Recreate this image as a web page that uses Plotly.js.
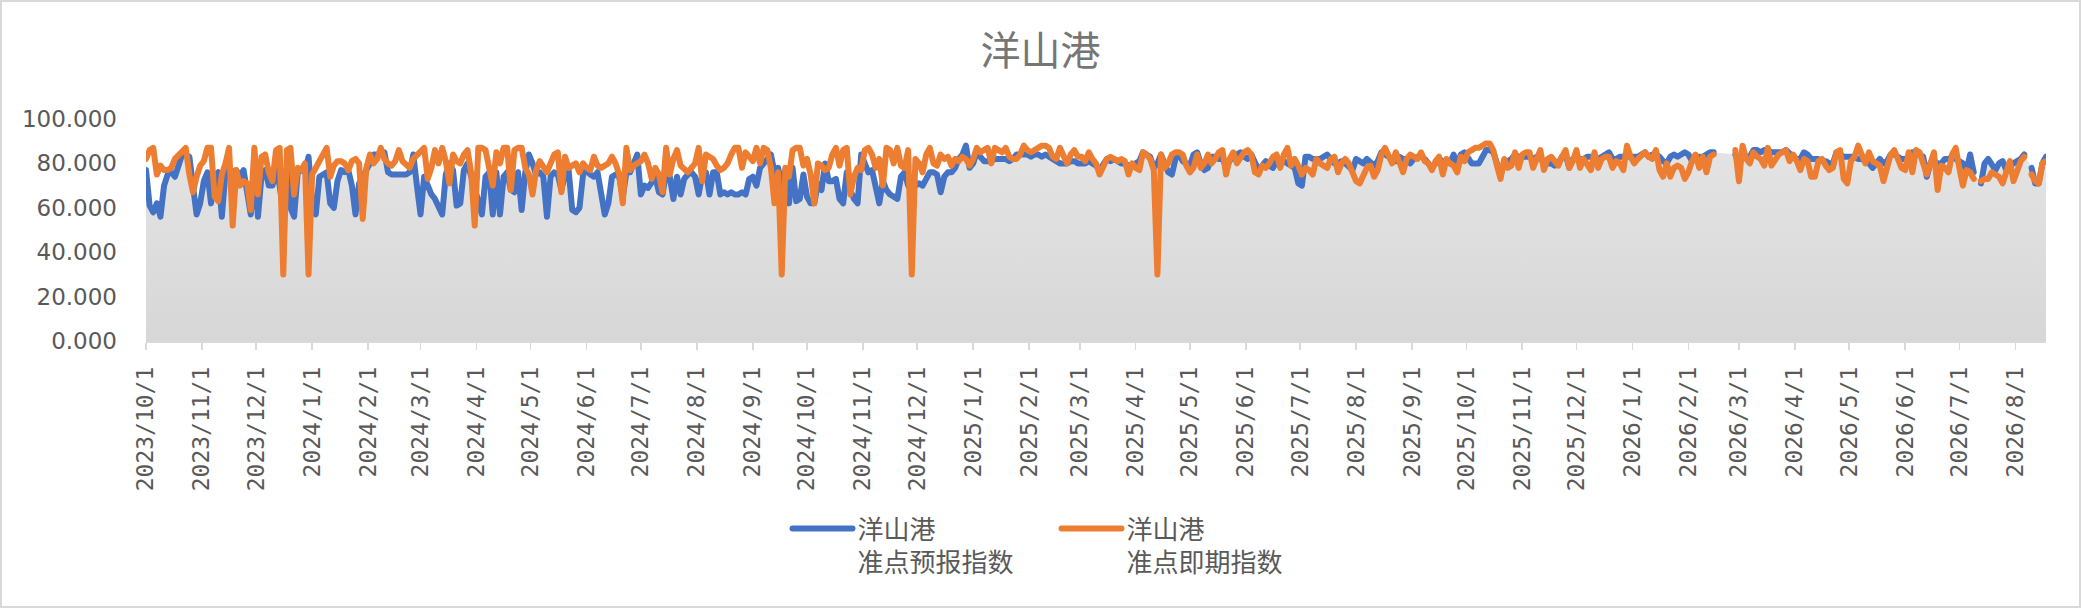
<!DOCTYPE html>
<html>
<head>
<meta charset="utf-8">
<script src="https://cdn.plot.ly/plotly-3.0.1.min.js"></script>
<style>
  body { margin: 0; background: #fff; }
  #wrap { position: relative; width: 2081px; height: 608px; }
  #chart { width: 2081px; height: 608px; }
  #frame {
    position: absolute; left: 0; top: 0; width: 2081px; height: 608px;
    box-sizing: border-box; border: 2px solid #d9d9d9; pointer-events: none;
  }
  .js-line { stroke-linejoin: round; stroke-linecap: round; }
</style>
</head>
<body>
<div id="wrap">
  <div id="chart"></div>
  <div id="frame"></div>
</div>
<script>
// one value every second day, starting 2023/10/1
const startDate = [2023, 9, 1];
const stepDays = 2;

const seriesNames = ['洋山港<br>准点预报指数', '洋山港<br>准点即期指数'];

// 洋山港 准点预报指数
const forecastValues = [
  77,61,58,62,56,70,75,76,74,80,
  84,84,83,70,57,62,72,76,62,74,
  76,56,76,77,76,77,74,77,68,57,
  76,56,75,77,70,70,77,70,58,77,
  60,56,76,77,76,83,62,57,74,75,
  76,62,60,72,77,76,77,70,57,71,
  74,76,80,84,84,84,85,76,75,75,
  75,75,75,76,84,70,57,74,69,66,
  64,60,57,75,80,77,61,62,77,80,
  75,70,63,57,74,76,57,76,57,74,
  76,68,67,76,59,76,84,80,75,76,
  74,56,74,76,75,68,75,77,59,58,
  60,75,77,75,74,76,65,57,62,74,
  75,74,65,76,76,81,84,66,70,69,
  71,74,67,66,76,74,64,74,66,73,
  75,76,74,66,75,76,66,76,76,66,
  67,66,67,66,66,67,66,73,74,70,
  78,80,82,84,76,78,70,77,62,78,
  63,64,75,65,62,62,71,68,80,72,
  72,73,64,62,76,68,64,62,84,80,
  76,77,70,62,72,68,66,65,64,74,
  76,70,70,70,71,70,73,76,76,75,
  67,74,76,76,78,82,84,88,78,80,
  85,83,81,81,81,82,82,82,82,81,
  82,84,84,84,84,83,84,84,83,84,
  83,82,81,80,80,80,81,81,80,80,
  80,81,80,79,77,79,82,81,82,81,
  80,80,79,79,80,81,85,84,83,78,
  80,84,80,76,75,82,84,81,80,79,
  84,85,80,77,78,83,83,82,82,79,
  81,84,84,85,83,82,84,81,77,79,
  81,79,78,81,82,81,80,79,78,71,
  70,83,83,82,82,82,83,84,82,80,
  80,81,80,78,77,82,81,80,82,80,
  79,81,85,84,83,82,81,83,82,82,
  80,82,83,83,82,80,78,80,82,81,
  81,80,84,79,84,85,82,80,80,80,
  83,86,86,85,80,75,80,81,82,84,
  83,83,83,83,82,83,82,81,80,80,
  79,80,83,84,78,82,83,82,82,83,
  83,82,82,83,84,85,82,82,83,83,
  83,83,83,83,84,85,83,84,84,83,
  81,80,83,84,83,84,85,84,81,82,
  83,83,84,85,85,null,null,null,null,null,
  84,80,84,83,83,86,86,85,86,86,
  85,85,85,85,86,84,83,82,82,85,
  84,82,82,82,81,81,80,80,85,84,
  83,83,83,83,82,82,81,80,78,80,
  82,80,81,84,84,83,82,82,83,85,
  84,84,83,74,80,81,80,80,82,82,
  83,82,81,80,77,84,76,null,71,80,
  82,79,77,80,81,77,79,80,81,82,
  84,null,78,71,71,80,83
];

// 洋山港 准点即期指数
const instantValues = [
  82,86,87,75,79,77,77,78,82,84,
  86,87,75,67,74,79,81,87,87,65,
  63,75,80,87,52,77,70,72,71,59,
  87,66,83,84,76,72,86,87,30,86,
  87,66,78,77,80,30,75,78,82,85,
  87,74,79,81,81,80,77,81,82,80,
  55,78,84,80,82,87,82,80,79,81,
  86,81,79,78,82,84,86,87,73,78,
  86,80,87,81,71,84,81,80,84,86,
  76,52,87,87,86,76,70,85,80,87,
  87,68,86,87,87,78,75,66,77,81,
  79,76,80,84,85,67,83,78,79,80,
  76,80,78,77,83,79,78,79,80,83,
  80,75,62,87,77,79,80,81,84,80,
  73,78,75,67,87,75,82,86,79,77,
  76,78,80,87,72,84,83,82,79,77,
  78,80,84,87,87,78,85,83,81,87,
  80,87,86,78,62,76,30,78,74,86,
  87,87,79,82,75,62,80,79,77,78,
  84,87,79,86,87,66,74,78,77,86,
  87,84,78,82,70,87,86,80,87,79,
  78,86,30,82,80,76,84,87,80,79,
  84,82,83,79,82,81,83,82,79,82,
  87,85,86,87,80,87,86,85,87,83,
  82,82,84,88,86,85,86,87,88,88,
  87,83,82,87,84,80,84,86,83,83,
  81,85,82,80,75,78,82,83,82,81,
  82,81,75,80,78,77,85,84,82,77,
  30,84,78,80,84,85,85,84,79,76,
  78,84,78,80,84,80,82,85,86,75,
  82,85,80,83,85,86,84,76,75,79,
  78,80,83,84,78,84,87,79,82,79,
  75,78,77,75,82,80,79,78,82,83,
  76,80,82,80,76,72,71,75,78,79,
  74,77,84,87,83,80,85,80,76,82,
  84,83,82,85,81,80,77,81,83,75,
  82,80,79,76,83,81,85,86,87,87,
  88,89,89,86,79,73,82,78,79,85,
  78,84,85,85,78,82,86,77,82,83,
  81,79,83,86,78,81,86,78,82,80,
  77,85,78,82,83,83,78,81,80,77,
  88,83,80,82,84,85,83,82,86,77,
  74,80,74,78,79,78,73,76,81,84,
  78,83,76,83,84,null,null,null,null,null,
  86,72,88,82,80,85,83,82,79,87,
  79,82,84,85,86,81,84,81,77,82,
  81,74,74,81,82,79,77,78,85,86,
  73,71,81,83,88,84,80,85,81,80,
  79,72,79,84,86,81,78,77,85,76,
  86,85,79,75,80,85,68,79,78,76,
  84,87,78,70,77,76,73,null,72,73,
  73,76,75,74,71,76,81,72,76,81,
  83,null,75,72,71,80,81
];

const yTicks = [0, 20, 40, 60, 80, 100];

const dates = forecastValues.map((_, i) =>
  new Date(Date.UTC(startDate[0], startDate[1], startDate[2] + i * stepDays))
    .toISOString().slice(0, 10)
);

const labelColor = '#595959';
const axisColor = '#d9d9d9';
const lineWidth = 6;

const areaTrace = {
  x: dates,
  y: forecastValues,
  type: 'scatter',
  mode: 'lines',
  line: { width: 0 },
  fill: 'tozeroy',
  fillgradient: {
    type: 'vertical',
    start: 0,
    stop: 90,
    colorscale: [[0, '#d7d7d7'], [1, '#e4e4e4']]
  },
  connectgaps: false,
  showlegend: false,
  hoverinfo: 'skip'
};

const forecastTrace = {
  x: dates,
  y: forecastValues,
  type: 'scatter',
  mode: 'lines',
  name: seriesNames[0],
  line: { color: '#4472c4', width: lineWidth },
  connectgaps: false
};

const instantTrace = {
  x: dates,
  y: instantValues,
  type: 'scatter',
  mode: 'lines',
  name: seriesNames[1],
  line: { color: '#ed7d31', width: lineWidth },
  connectgaps: false
};

const layout = {
  width: 2081,
  height: 608,
  paper_bgcolor: '#ffffff',
  plot_bgcolor: 'rgba(0,0,0,0)',
  margin: { l: 146, r: 35, t: 119, b: 267 },
  title: {
    text: '洋山港',
    font: { family: 'Noto Sans CJK SC', size: 40, color: '#767676' },
    x: 0.5,
    xref: 'container',
    y: 1 - 51 / 608,
    yref: 'container',
    yanchor: 'middle'
  },
  xaxis: {
    type: 'date',
    range: [dates[0], dates[dates.length - 1]],
    tickmode: 'linear',
    tick0: dates[0],
    dtick: 'M1',
    tickformat: '%Y/%-m/%-d',
    tickangle: -90,
    tickfont: { family: 'DejaVu Sans Mono', size: 23, color: labelColor },
    ticks: 'outside',
    ticklen: 7,
    tickwidth: 1.5,
    tickcolor: axisColor,
    ticklabelstandoff: 8,
    showline: true,
    linecolor: axisColor,
    linewidth: 1.5,
    showgrid: false,
    zeroline: false
  },
  yaxis: {
    range: [0, 100],
    tickmode: 'array',
    tickvals: yTicks,
    tickformat: '.3f',
    tickfont: { family: 'DejaVu Sans', size: 23, color: labelColor },
    ticklabelstandoff: 28,
    showline: false,
    showgrid: false,
    zeroline: false
  },
  showlegend: true,
  legend: {
    orientation: 'h',
    xref: 'container',
    x: 0.5077,
    xanchor: 'center',
    yref: 'container',
    y: 1 - 505 / 608,
    yanchor: 'top',
    valign: 'top',
    itemwidth: 60,
    entrywidth: 194,
    font: { family: 'Noto Sans CJK SC', size: 26, color: labelColor },
    bgcolor: 'rgba(0,0,0,0)'
  }
};

Plotly.newPlot('chart', [areaTrace, forecastTrace, instantTrace], layout, {
  displayModeBar: false,
  staticPlot: true
});
</script>
</body>
</html>
